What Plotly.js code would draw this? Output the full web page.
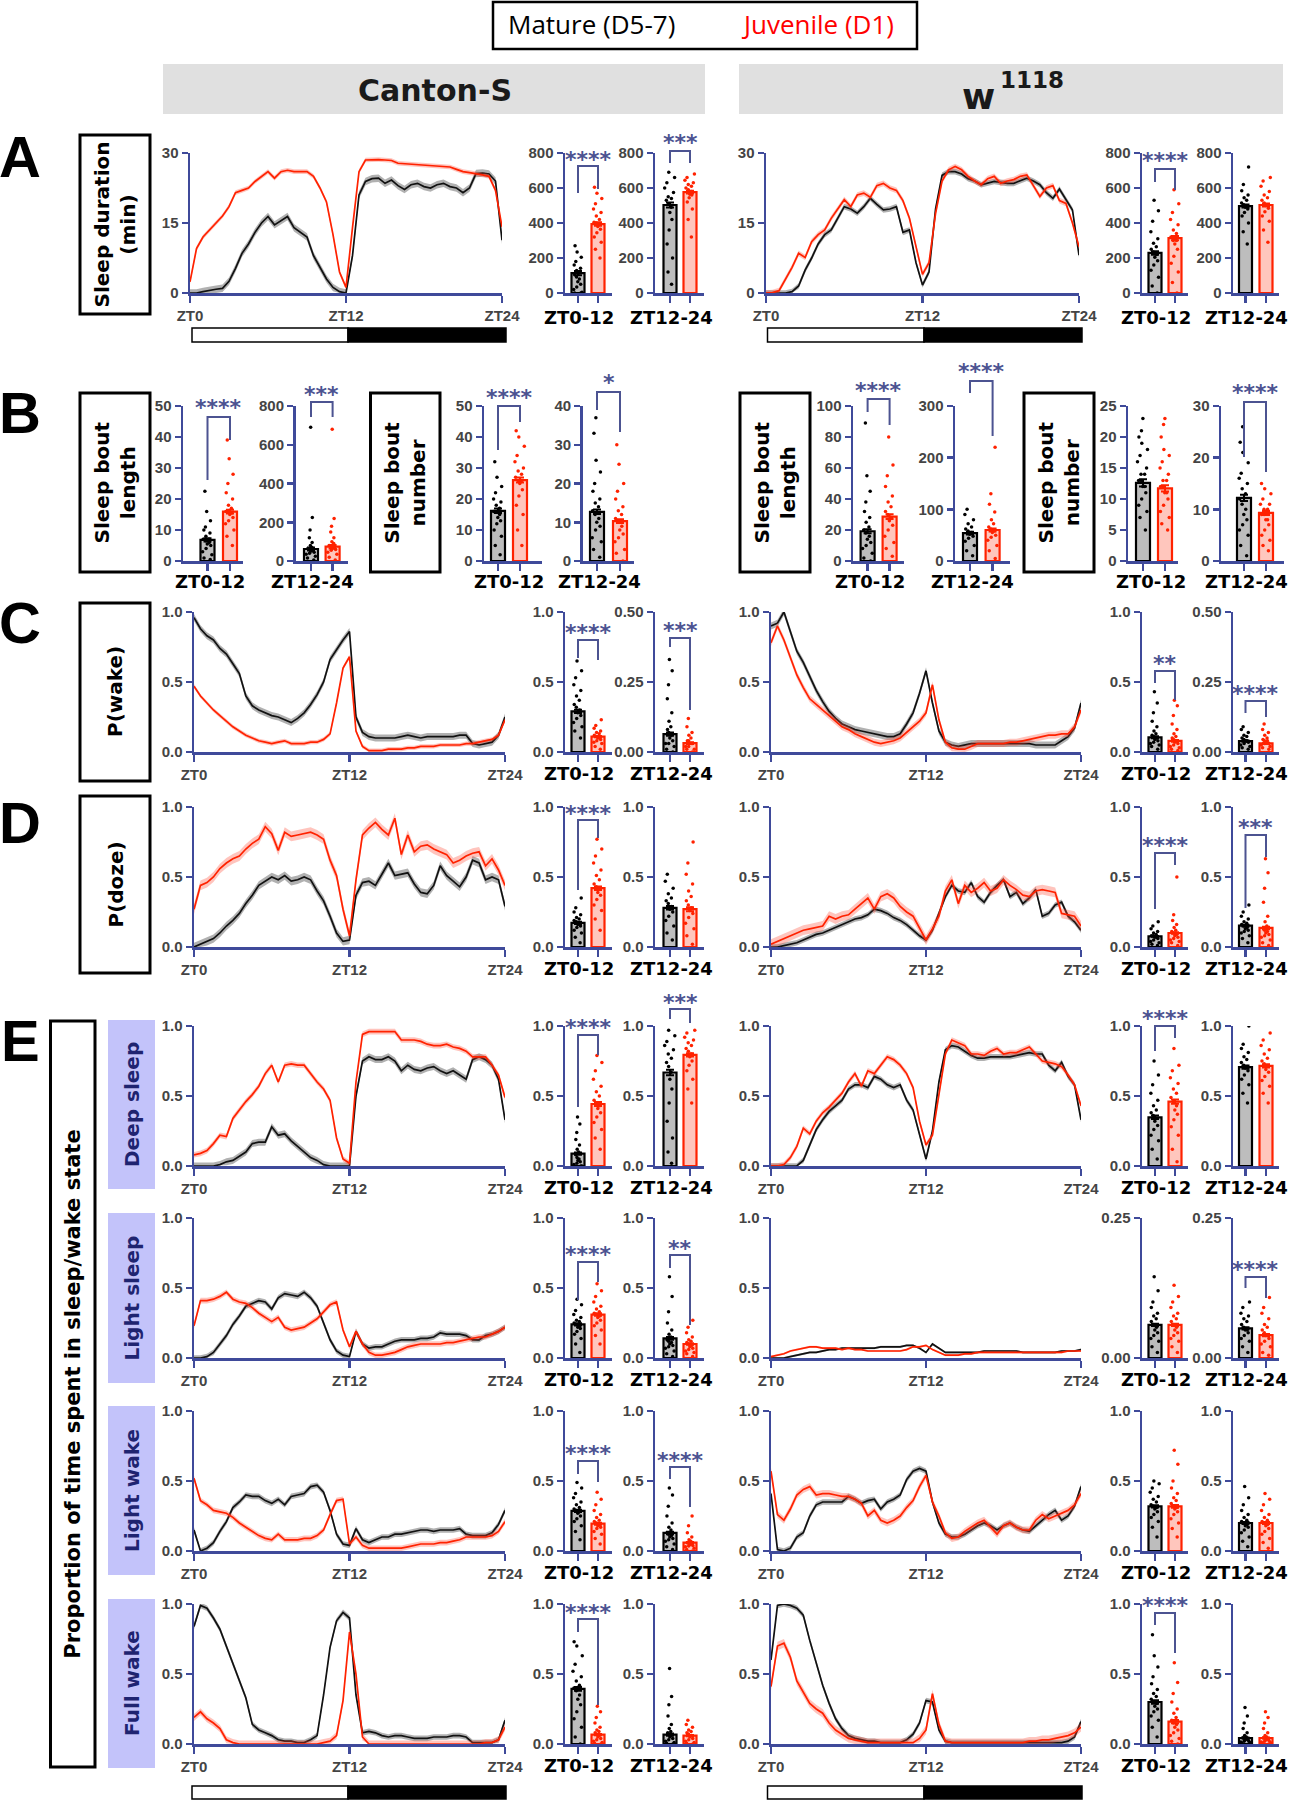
<!DOCTYPE html>
<html>
<head>
<meta charset="utf-8">
<script src="https://cdn.plot.ly/plotly-3.0.1.min.js"></script>
<style>html,body{margin:0;padding:0;background:#fff}</style>
</head>
<body>
<div id="fig" style="width:1289px;height:1800px"></div>
<script>
// ---- time axis (ZT hours, 30 min bins) ----
const T = [0,0.5,1,1.5,2,2.5,3,3.5,4,4.5,5,5.5,6,6.5,7,7.5,8,8.5,9,9.5,10,10.5,11,11.5,
           12,12.5,13,13.5,14,14.5,15,15.5,16,16.5,17,17.5,18,18.5,19,19.5,20,20.5,21,21.5,22,22.5,23,23.5,24];

// ---- A: sleep duration (min / 30 min) ----
const csA_blk = [0,0,0.3,0.6,0.8,1,2.5,5.3,8.5,10.5,13,15, 16.4,14.6,15.5,16.4,14,13,12,8,5.5,3,1.2,0.3,
  0,8,21,23.9,24.5,24.6,23.5,24.2,23,22.2,23.2,23.5, 22.8,22.5,23.2,23.5,22.8,22.5,21.5,22.5,25.6,25.7,25.5,24,11.3];
const csA_red = [2.4,9.5,12,13.5,15,16.5,18.5,21.5,22,22.5,23.9,25, 26,24.6,26,26.3,26,26,26,25,22.5,19.5,12.5,4.5,
  1.2,14,26,28.5,28.6,28.6,28.5,28.4,27.8,27.7,27.6,27.5, 27.5,27.4,27.2,27.1,27,26.5,26,25.8,25.6,25.3,25,22,14.2];
const wA_blk = [0,0,0,0,0.3,1.5,4.9,7.5,10.5,12.5,13.5,16, 18.5,18,17.1,18.5,20.3,19,17.8,18,18.5,13,13.5,6.5,
  1.7,4.5,18,25.2,26,26,25.5,24.5,24,23.2,23.5,23.9, 23.7,23.5,23.5,24,24.6,24,23.2,21.5,20.3,22.3,20,17.8,8.1];
const wA_red = [0,0.1,0.5,3,5.5,8.5,7.6,11,12.5,13.5,16,18, 20,18.5,21,21.4,20.5,23,23.5,22.5,22,19.8,16,10,
  4,6.5,17,24,26.4,27.1,26.4,25,24,23.2,24.5,25, 23.5,24,24.3,25,25.3,23,20.7,22.5,23,19.8,19.2,15,9.9];

// ---- C: P(wake) ----
const csC_blk = [0.96,0.88,0.83,0.80,0.74,0.70,0.63,0.56,0.40,0.33,0.30,0.28, 0.26,0.25,0.23,0.21,0.24,0.28,0.34,0.41,0.50,0.66,0.73,0.80,
  0.86,0.25,0.14,0.11,0.10,0.10,0.10,0.10,0.11,0.12,0.11,0.10, 0.11,0.11,0.11,0.11,0.11,0.12,0.12,0.06,0.05,0.06,0.07,0.12,0.25];
const csC_red = [0.47,0.40,0.35,0.30,0.26,0.22,0.18,0.15,0.12,0.10,0.08,0.07, 0.06,0.07,0.08,0.06,0.06,0.06,0.07,0.07,0.09,0.13,0.35,0.60,
  0.68,0.15,0.04,0.01,0.01,0.01,0.02,0.02,0.02,0.03,0.03,0.04, 0.04,0.04,0.05,0.05,0.05,0.05,0.06,0.06,0.07,0.08,0.09,0.12,0.23];
const wC_blk = [0.90,0.92,1.0,0.86,0.72,0.64,0.54,0.44,0.36,0.29,0.24,0.20, 0.18,0.16,0.15,0.14,0.13,0.12,0.11,0.11,0.13,0.20,0.28,0.42,
  0.58,0.35,0.15,0.07,0.05,0.04,0.05,0.06,0.06,0.06,0.06,0.06, 0.06,0.06,0.06,0.06,0.06,0.05,0.05,0.05,0.05,0.08,0.11,0.17,0.35];
const wC_red = [0.78,0.90,0.80,0.68,0.55,0.46,0.38,0.34,0.30,0.26,0.22,0.18, 0.16,0.13,0.11,0.09,0.07,0.06,0.07,0.08,0.10,0.14,0.18,0.22,
  0.28,0.48,0.23,0.07,0.03,0.02,0.02,0.04,0.06,0.06,0.06,0.06, 0.06,0.07,0.07,0.08,0.09,0.10,0.11,0.12,0.12,0.13,0.13,0.18,0.30];

// ---- D: P(doze) ----
const csD_blk = [0,0.02,0.04,0.06,0.10,0.15,0.19,0.24,0.31,0.37,0.44,0.47, 0.50,0.48,0.51,0.47,0.48,0.50,0.48,0.40,0.33,0.22,0.10,0.04,
  0.05,0.37,0.46,0.47,0.44,0.52,0.60,0.51,0.52,0.53,0.45,0.39, 0.38,0.44,0.58,0.51,0.47,0.43,0.50,0.62,0.60,0.48,0.50,0.48,0.29];
const csD_red = [0.27,0.44,0.46,0.50,0.56,0.60,0.63,0.65,0.70,0.74,0.77,0.86, 0.81,0.69,0.82,0.79,0.80,0.81,0.82,0.80,0.77,0.62,0.51,0.27,
  0.08,0.48,0.80,0.85,0.89,0.84,0.80,0.92,0.66,0.80,0.68,0.72, 0.73,0.70,0.68,0.66,0.60,0.62,0.65,0.67,0.68,0.58,0.63,0.55,0.44];
const wD_blk = [0,0,0.01,0.02,0.03,0.05,0.07,0.09,0.10,0.12,0.14,0.16, 0.18,0.20,0.21,0.23,0.27,0.26,0.24,0.21,0.19,0.16,0.12,0.08,
  0.05,0.12,0.24,0.36,0.44,0.40,0.39,0.46,0.36,0.32,0.39,0.44, 0.48,0.36,0.39,0.31,0.35,0.41,0.22,0.24,0.30,0.32,0.22,0.18,0.12];
const wD_red = [0.02,0.04,0.06,0.08,0.10,0.12,0.13,0.14,0.15,0.22,0.20,0.22, 0.23,0.27,0.31,0.35,0.27,0.36,0.38,0.35,0.29,0.25,0.22,0.14,
  0.05,0.13,0.22,0.40,0.48,0.31,0.44,0.39,0.42,0.46,0.40,0.42, 0.48,0.44,0.41,0.37,0.36,0.40,0.41,0.40,0.39,0.24,0.23,0.22,0.15];

// ---- E: deep sleep ----
const csDS_blk = [0,0,0,0,0.01,0.03,0.04,0.07,0.10,0.16,0.17,0.17, 0.28,0.22,0.23,0.18,0.14,0.10,0.06,0.04,0.01,0,0,0,
  0,0.50,0.75,0.78,0.76,0.76,0.78,0.75,0.68,0.72,0.69,0.68, 0.70,0.71,0.68,0.66,0.68,0.65,0.62,0.76,0.78,0.76,0.72,0.62,0.33];
const csDS_red = [0.08,0.09,0.11,0.16,0.22,0.21,0.34,0.40,0.46,0.51,0.57,0.66, 0.72,0.60,0.72,0.73,0.72,0.72,0.66,0.60,0.55,0.47,0.20,0.05,
  0.02,0.60,0.94,0.96,0.96,0.96,0.96,0.96,0.90,0.90,0.90,0.89, 0.87,0.86,0.86,0.87,0.85,0.84,0.82,0.78,0.78,0.78,0.72,0.65,0.49];
const wDS_blk = [0,0,0,0,0,0.04,0.15,0.26,0.33,0.39,0.43,0.47, 0.55,0.58,0.58,0.56,0.64,0.62,0.58,0.56,0.58,0.47,0.40,0.22,
  0.05,0.25,0.60,0.83,0.86,0.85,0.82,0.79,0.77,0.77,0.78,0.78, 0.78,0.78,0.79,0.80,0.81,0.80,0.80,0.72,0.68,0.74,0.64,0.58,0.33];
const wDS_red = [0,0,0.01,0.06,0.14,0.27,0.23,0.32,0.38,0.42,0.47,0.52, 0.60,0.66,0.57,0.68,0.66,0.72,0.78,0.76,0.72,0.66,0.56,0.32,
  0.15,0.22,0.52,0.80,0.90,0.88,0.86,0.80,0.80,0.79,0.82,0.84, 0.80,0.81,0.81,0.83,0.85,0.80,0.75,0.74,0.73,0.71,0.65,0.58,0.43];

// ---- E: light sleep ----
const csLS_blk = [0,0,0.01,0.04,0.10,0.16,0.24,0.30,0.37,0.39,0.41,0.40, 0.35,0.43,0.46,0.45,0.44,0.47,0.43,0.37,0.25,0.13,0.05,0.02,
  0.01,0.19,0.10,0.07,0.08,0.08,0.10,0.12,0.13,0.13,0.13,0.14, 0.14,0.15,0.18,0.17,0.17,0.17,0.16,0.13,0.13,0.16,0.17,0.19,0.22];
const csLS_red = [0.23,0.41,0.41,0.42,0.44,0.47,0.42,0.40,0.39,0.36,0.32,0.29, 0.26,0.29,0.22,0.20,0.21,0.22,0.25,0.28,0.33,0.38,0.40,0.20,
  0.08,0.19,0.10,0.04,0.02,0.02,0.03,0.04,0.06,0.08,0.09,0.10, 0.10,0.10,0.10,0.11,0.11,0.12,0.13,0.14,0.15,0.15,0.17,0.19,0.22];
const wLS_blk = [0,0,0,0.01,0.02,0.03,0.04,0.04,0.05,0.06,0.06,0.07, 0.07,0.07,0.07,0.07,0.07,0.08,0.08,0.08,0.08,0.09,0.09,0.07,
  0.04,0.10,0.07,0.04,0.04,0.04,0.04,0.04,0.04,0.05,0.05,0.05, 0.05,0.05,0.05,0.04,0.04,0.04,0.04,0.04,0.04,0.05,0.05,0.05,0.06];
const wLS_red = [0.01,0.02,0.03,0.05,0.06,0.07,0.08,0.08,0.07,0.07,0.07,0.06, 0.07,0.06,0.06,0.05,0.05,0.05,0.05,0.05,0.05,0.06,0.08,0.08,
  0.09,0.06,0.04,0.02,0.02,0.02,0.03,0.03,0.04,0.04,0.04,0.04, 0.04,0.04,0.04,0.04,0.04,0.04,0.04,0.04,0.04,0.04,0.05,0.05,0.05];

// ---- E: light wake ----
const csLW_blk = [0.15,0,0.02,0.06,0.14,0.21,0.31,0.35,0.40,0.39,0.39,0.36, 0.34,0.37,0.33,0.39,0.40,0.41,0.46,0.47,0.42,0.29,0.12,0.05,
  0.04,0.16,0.08,0.06,0.08,0.10,0.10,0.12,0.12,0.13,0.14,0.15, 0.15,0.14,0.15,0.15,0.15,0.16,0.12,0.11,0.11,0.11,0.13,0.19,0.29];
const csLW_red = [0.52,0.36,0.33,0.29,0.28,0.27,0.24,0.20,0.17,0.14,0.11,0.09, 0.08,0.12,0.08,0.08,0.08,0.09,0.09,0.11,0.15,0.26,0.36,0.37,
  0.05,0.10,0.04,0.02,0.02,0.02,0.02,0.02,0.02,0.03,0.04,0.05, 0.05,0.05,0.06,0.06,0.07,0.08,0.10,0.10,0.10,0.10,0.11,0.14,0.21];
const wLW_blk = [0.41,0.01,0,0.02,0.10,0.13,0.25,0.33,0.35,0.35,0.35,0.35, 0.39,0.37,0.34,0.36,0.37,0.30,0.35,0.37,0.40,0.51,0.57,0.59,
  0.57,0.35,0.20,0.12,0.10,0.10,0.12,0.15,0.18,0.20,0.18,0.15, 0.18,0.20,0.17,0.15,0.14,0.18,0.22,0.26,0.29,0.22,0.25,0.32,0.46];
const wLW_red = [0.57,0.26,0.22,0.30,0.40,0.44,0.46,0.40,0.41,0.41,0.40,0.39, 0.39,0.37,0.34,0.25,0.29,0.22,0.20,0.22,0.25,0.31,0.36,0.46,
  0.54,0.35,0.25,0.13,0.09,0.10,0.14,0.17,0.20,0.22,0.17,0.12, 0.18,0.20,0.17,0.15,0.15,0.22,0.26,0.23,0.25,0.27,0.29,0.33,0.41];

// ---- E: full wake ----
const csFW_blk = [0.84,0.99,0.97,0.90,0.82,0.70,0.58,0.45,0.33,0.14,0.10,0.08, 0.06,0.03,0.02,0.02,0.01,0.01,0.03,0.06,0.35,0.69,0.88,0.94,
  0.90,0.35,0.08,0.09,0.08,0.06,0.05,0.06,0.06,0.05,0.04,0.04, 0.04,0.05,0.05,0.05,0.06,0.06,0.05,0.01,0.01,0.01,0.01,0.03,0.17];
const csFW_red = [0.19,0.23,0.18,0.15,0.11,0.03,0.01,0,0,0,0,0, 0,0,0,0,0,0,0,0,0.01,0.02,0.06,0.31,
  0.80,0.50,0.05,0,0,0,0,0,0,0,0,0, 0,0,0,0,0,0,0,0,0,0.01,0.01,0.03,0.12];
const wFW_blk = [0.60,0.99,1.0,0.99,0.97,0.92,0.74,0.57,0.42,0.29,0.18,0.11, 0.06,0.04,0.03,0.02,0.02,0.01,0.01,0.01,0.01,0.03,0.07,0.15,
  0.31,0.30,0.10,0.02,0.01,0.01,0.01,0.01,0.01,0.01,0.01,0.01, 0.01,0.01,0.01,0.01,0.01,0.01,0.01,0.01,0.01,0.01,0.02,0.05,0.16];
const wFW_red = [0.41,0.70,0.72,0.62,0.45,0.37,0.29,0.25,0.22,0.15,0.10,0.07, 0.04,0.03,0.02,0.01,0.01,0.01,0.01,0.01,0.01,0.01,0.01,0.04,
  0.10,0.36,0.14,0.02,0.01,0.01,0.01,0.01,0.01,0.01,0.01,0.01, 0.01,0.01,0.01,0.01,0.02,0.02,0.03,0.03,0.04,0.05,0.06,0.08,0.12];

// ---- bar summaries: [ZT0-12 mature, ZT0-12 juvenile, ZT12-24 mature, ZT12-24 juvenile] ----
const csA_mean = [114,394,503,577],        csA_sem = [12,10,14,8];
const wA_mean = [229,314,497,503],         wA_sem = [10,12,9,9];
const csBL_mean = [6.8,15.9,62,74],        csBL_sem = [0.5,0.6,8,9];
const csBN_mean = [16.2,26.1,12.7,10.3],   csBN_sem = [0.7,0.8,0.6,0.5];
const wBL_mean = [19.2,28.6,54,60],        wBL_sem = [1.3,1.5,2.5,3];
const wBN_mean = [12.6,11.7,12.2,9.3],     wBN_sem = [0.6,0.5,0.6,0.4];
const csC_mean = [0.29,0.11,0.064,0.032],  csC_sem = [0.012,0.005,0.006,0.003];
const wC_mean = [0.105,0.08,0.039,0.031],  wC_sem = [0.007,0.006,0.002,0.002];
const csD_mean = [0.173,0.42,0.28,0.27],   csD_sem = [0.008,0.013,0.012,0.014];
const wD_mean = [0.076,0.10,0.153,0.136],  wD_sem = [0.003,0.006,0.006,0.009];
const csDS_mean = [0.088,0.443,0.668,0.794], csDS_sem = [0.008,0.015,0.02,0.012];
const wDS_mean = [0.348,0.46,0.706,0.715], wDS_sem = [0.013,0.015,0.012,0.012];
const csLS_mean = [0.24,0.31,0.14,0.10],   csLS_sem = [0.008,0.009,0.01,0.005];
const wLS_mean = [0.059,0.059,0.053,0.041], wLS_sem = [0.002,0.002,0.002,0.002];
const csLW_mean = [0.286,0.195,0.129,0.06], csLW_sem = [0.008,0.007,0.009,0.004];
const wLW_mean = [0.319,0.319,0.2,0.2],    wLW_sem = [0.008,0.01,0.007,0.008];
const csFW_mean = [0.394,0.067,0.067,0.06], csFW_sem = [0.013,0.005,0.008,0.004];
const wFW_mean = [0.30,0.16,0.043,0.043],  wFW_sem = [0.012,0.012,0.004,0.004];

// ---- individual flies (representative values read from the strips) ----
const csA_pts = [
  [0,5,20,35,50,65,80,92,104,115,128,142,160,180,205,235,270,0],
  [200,250,290,320,345,365,380,395,405,420,440,460,480,510,540,570,605,400],
  [50,120,200,280,360,420,460,490,510,530,550,575,600,630,660,690,540],
  [320,420,480,520,545,565,580,590,600,610,620,630,645,660,680,560]];
const wA_pts = [
  [0,40,90,130,160,185,205,220,235,250,265,285,310,350,410,470,530],
  [0,60,120,170,210,250,280,300,320,340,360,390,420,460,510,590,300],
  [280,350,400,440,460,480,495,505,515,530,545,560,585,620,720,490],
  [290,360,410,440,465,485,500,515,530,545,560,580,610,640,660,500]];
const csBL_pts = [
  [0.5,1,2,3,4,5,5.5,6,6.5,7,8,9,10,11,13,16,22.5,7],
  [5,8,10,12,13,14,15,15.5,16,17,18,20,22,25,28,33,39,16],
  [5,15,25,35,45,50,55,60,65,70,80,95,120,160,225,690,40],
  [5,20,35,45,55,65,70,75,80,90,100,120,150,180,220,680,60]];
const csBN_pts = [
  [2,5,8,10,12,13,14,15,16,17,18,19,20,22,24,27,32,16],
  [5,10,15,18,21,23,25,26,27,28,29,30,32,34,37,40,42,26],
  [1,3,5,6,8,9,10,11,12,13,14,15,16,18,20,23,26,33,37],
  [0,2,3,5,6,7,8,9,10,11,12,13,14,16,18,20,25,30]];
const wBL_pts = [
  [0,2,5,8,10,12,14,16,18,20,22,25,28,32,38,45,55,89],
  [3,8,12,16,20,23,26,28,30,32,35,38,42,48,55,62,80],
  [10,20,30,38,44,48,52,55,58,62,66,72,80,90,100],
  [5,20,30,40,46,50,55,58,62,66,72,80,95,110,130,220]];
const wBN_pts = [
  [5,7,8,9,10,11,12,12,13,13,14,14,15,16,17,18,19,20,21,23],
  [5,6,7,8,9,10,11,11,12,12,13,13,14,15,16,17,18,20,22,23],
  [1,3,5,6,7,8,9,10,11,12,13,14,15,16,17,19,21,23,26],
  [2,3,4,5,6,7,8,8,9,9,10,10,11,11,12,13,14,15]];
const csC_pts = [
  [0.10,0.15,0.18,0.21,0.24,0.26,0.28,0.30,0.32,0.34,0.37,0.40,0.44,0.48,0.53,0.58,0.65],
  [0.02,0.04,0.06,0.07,0.08,0.09,0.10,0.10,0.11,0.12,0.13,0.14,0.15,0.17,0.19,0.23],
  [0,0.01,0.02,0.03,0.03,0.04,0.05,0.06,0.07,0.08,0.09,0.11,0.14,0.19,0.24,0.29,0.33],
  [0,0.01,0.01,0.02,0.02,0.03,0.03,0.03,0.04,0.04,0.05,0.06,0.07,0.09,0.12]];
const wC_pts = [
  [0.02,0.04,0.05,0.06,0.07,0.08,0.09,0.10,0.11,0.12,0.13,0.15,0.18,0.22,0.28,0.35,0.43],
  [0.01,0.02,0.03,0.04,0.05,0.06,0.07,0.08,0.09,0.10,0.11,0.13,0.16,0.20,0.26,0.33,0.37],
  [0.01,0.015,0.02,0.025,0.03,0.035,0.04,0.04,0.045,0.05,0.055,0.06,0.07,0.08,0.09],
  [0.01,0.015,0.02,0.025,0.03,0.03,0.035,0.04,0.04,0.045,0.05,0.06,0.07,0.08,0.10]];
const csD_pts = [
  [0.03,0.07,0.10,0.12,0.14,0.15,0.16,0.17,0.18,0.19,0.20,0.21,0.23,0.25,0.28,0.35],
  [0.12,0.20,0.26,0.30,0.34,0.37,0.39,0.41,0.43,0.45,0.48,0.51,0.55,0.60,0.65,0.70,0.77],
  [0.05,0.10,0.15,0.19,0.22,0.25,0.27,0.29,0.31,0.33,0.35,0.38,0.42,0.47,0.52],
  [0.02,0.08,0.13,0.17,0.21,0.24,0.26,0.28,0.30,0.33,0.36,0.40,0.45,0.52,0.60,0.75]];
const wD_pts = [
  [0.01,0.02,0.03,0.04,0.05,0.06,0.07,0.07,0.08,0.08,0.09,0.10,0.11,0.13,0.15,0.18],
  [0.01,0.03,0.04,0.05,0.06,0.07,0.08,0.09,0.10,0.11,0.12,0.14,0.16,0.19,0.23,0.50],
  [0.03,0.06,0.08,0.10,0.11,0.12,0.13,0.14,0.15,0.16,0.17,0.18,0.20,0.22,0.25,0.30],
  [0.01,0.03,0.05,0.07,0.08,0.09,0.10,0.11,0.12,0.13,0.15,0.18,0.22,0.32,0.42,0.53,0.63]];
const csDS_pts = [
  [0,0,0,0.01,0.02,0.03,0.04,0.05,0.06,0.08,0.10,0.12,0.15,0.19,0.24,0.30,0.35],
  [0.12,0.20,0.26,0.31,0.35,0.38,0.41,0.43,0.45,0.47,0.50,0.53,0.57,0.62,0.68,0.74,0.79],
  [0.02,0.10,0.20,0.32,0.45,0.55,0.62,0.67,0.71,0.74,0.77,0.80,0.83,0.86,0.89,0.93,0.97],
  [0.45,0.55,0.62,0.68,0.72,0.75,0.78,0.80,0.82,0.84,0.86,0.88,0.90,0.92,0.95,0.97]];
const wDS_pts = [
  [0.05,0.12,0.18,0.22,0.26,0.29,0.32,0.34,0.36,0.38,0.40,0.43,0.47,0.52,0.58,0.65,0.75],
  [0.03,0.12,0.22,0.28,0.33,0.37,0.40,0.43,0.46,0.49,0.52,0.55,0.59,0.63,0.68,0.72,0.84],
  [0.45,0.52,0.58,0.62,0.65,0.68,0.70,0.71,0.72,0.74,0.76,0.78,0.81,0.84,0.87,1.0],
  [0.45,0.52,0.57,0.61,0.64,0.67,0.69,0.71,0.73,0.75,0.77,0.80,0.83,0.86,0.90,0.95]];
const csLS_pts = [
  [0.04,0.10,0.14,0.17,0.19,0.21,0.22,0.23,0.24,0.25,0.26,0.27,0.29,0.31,0.34,0.38,0.42],
  [0.10,0.16,0.20,0.23,0.25,0.27,0.29,0.30,0.31,0.32,0.33,0.35,0.37,0.40,0.44,0.48,0.53],
  [0.01,0.03,0.05,0.07,0.08,0.09,0.10,0.11,0.12,0.13,0.15,0.17,0.20,0.25,0.33,0.44,0.58],
  [0.01,0.03,0.04,0.05,0.06,0.07,0.08,0.09,0.10,0.11,0.12,0.13,0.15,0.18,0.22,0.27]];
const wLS_pts = [
  [0.01,0.02,0.03,0.035,0.04,0.045,0.05,0.055,0.06,0.065,0.07,0.075,0.08,0.09,0.10,0.12,0.145],
  [0.01,0.02,0.03,0.035,0.04,0.045,0.05,0.055,0.06,0.065,0.07,0.075,0.08,0.09,0.10,0.11,0.13],
  [0.01,0.02,0.03,0.035,0.04,0.045,0.05,0.05,0.055,0.06,0.065,0.07,0.075,0.08,0.09,0.10],
  [0.005,0.01,0.02,0.025,0.03,0.035,0.04,0.04,0.045,0.05,0.055,0.06,0.07,0.08,0.09,0.108]];
const csLW_pts = [
  [0.08,0.14,0.18,0.21,0.23,0.25,0.27,0.28,0.29,0.30,0.31,0.33,0.35,0.38,0.41,0.45,0.49],
  [0.05,0.09,0.12,0.14,0.16,0.17,0.18,0.19,0.20,0.21,0.22,0.24,0.26,0.29,0.33,0.37,0.42],
  [0.01,0.03,0.05,0.07,0.08,0.09,0.10,0.11,0.12,0.13,0.15,0.17,0.20,0.25,0.32,0.40,0.45],
  [0,0.01,0.02,0.03,0.035,0.04,0.045,0.05,0.055,0.06,0.07,0.08,0.10,0.13,0.18,0.25]];
const wLW_pts = [
  [0.10,0.17,0.21,0.24,0.26,0.28,0.30,0.31,0.32,0.33,0.35,0.37,0.39,0.42,0.45,0.48,0.50],
  [0.10,0.16,0.20,0.23,0.26,0.28,0.30,0.31,0.32,0.34,0.36,0.38,0.41,0.45,0.50,0.62,0.72],
  [0.03,0.07,0.10,0.13,0.15,0.17,0.18,0.19,0.20,0.21,0.22,0.24,0.26,0.29,0.33,0.38,0.46],
  [0.02,0.06,0.09,0.12,0.14,0.16,0.18,0.19,0.20,0.21,0.22,0.24,0.26,0.29,0.33,0.37,0.41]];
const csFW_pts = [
  [0,0.05,0.12,0.18,0.23,0.28,0.32,0.35,0.38,0.40,0.42,0.45,0.48,0.52,0.57,0.63,0.70,0.73],
  [0,0.005,0.01,0.02,0.03,0.04,0.05,0.06,0.07,0.08,0.09,0.10,0.12,0.15,0.19,0.23,0.27],
  [0,0.005,0.01,0.02,0.03,0.04,0.05,0.06,0.07,0.08,0.09,0.11,0.14,0.20,0.28,0.34,0.54],
  [0,0.005,0.01,0.02,0.03,0.04,0.05,0.06,0.07,0.08,0.09,0.10,0.12,0.14,0.17]];
const wFW_pts = [
  [0.05,0.12,0.17,0.20,0.23,0.25,0.27,0.29,0.30,0.32,0.34,0.36,0.39,0.43,0.48,0.55,0.63,0.78],
  [0,0.02,0.04,0.06,0.08,0.10,0.12,0.14,0.15,0.17,0.19,0.22,0.25,0.30,0.36,0.44,0.58],
  [0,0.005,0.01,0.015,0.02,0.025,0.03,0.035,0.04,0.045,0.05,0.06,0.08,0.11,0.15,0.20,0.26],
  [0,0.005,0.01,0.015,0.02,0.025,0.03,0.035,0.04,0.045,0.05,0.06,0.08,0.11,0.15,0.19,0.23]];

// ---- page geometry (px) ----
const W = 1289, H = 1800;
const AX = '#3f4a9a', STAR = '#4c5391', RED = '#ff2200', NAVY = '#1f2470';
const LAB = 'DejaVu Sans, Verdana, sans-serif';
const TICK = 'Liberation Sans, Arial, sans-serif';

const CS_LINE_A = [190, 502], CS_LINE = [194, 505];
const W_LINE_A = [766, 1079], W_LINE = [771, 1081];
const CS_BAR1 = [565, 578, 598, 612], CS_BAR2 = [655, 670, 690, 704];
const W_BAR1 = [1142, 1155, 1175, 1188], W_BAR2 = [1233, 1245.5, 1266, 1279];
const ROW = {A: [153, 293], B: [406, 561], C: [612, 752], D: [807, 947],
             DS: [1026, 1166], LS: [1218, 1358], LW: [1411, 1551], FW: [1604, 1744]};

const traces = [], shapes = [], annotations = [];
const layout = {
  width: W, height: H, margin: {l: 0, r: 0, t: 0, b: 0},
  paper_bgcolor: '#fff', plot_bgcolor: 'rgba(0,0,0,0)',
  showlegend: false, barmode: 'overlay',
  font: {family: TICK}
};
const baseAxis = {
  showgrid: false, zeroline: false, showline: true, linecolor: AX, linewidth: 2.5,
  ticks: 'outside', tickcolor: AX, tickwidth: 2.5, ticklen: 6, fixedrange: true,
  tickfont: {family: TICK, size: 15, color: '#444', weight: 700}
};

const fx = x => x / W, fy = y => 1 - y / H;

let n = 0;
function newAxes(x0, x1, top, bot) {
  n += 1;
  const id = n === 1 ? '' : String(n);
  layout['xaxis' + id] = Object.assign({}, baseAxis, {domain: [fx(x0), fx(x1)], anchor: 'y' + id});
  layout['yaxis' + id] = Object.assign({}, baseAxis, {domain: [fy(bot), fy(top)], anchor: 'x' + id});
  return id;
}

function text(x, y, t, size, opt) {
  annotations.push(Object.assign({
    xref: 'paper', yref: 'paper', x: fx(x), y: fy(y), text: t, showarrow: false,
    xanchor: 'center', yanchor: 'middle',
    font: {family: LAB, size: size, color: '#111', weight: 700}
  }, opt || {}));
}

function rect(x0, y0, x1, y1, fill, line, lw, layer) {
  shapes.push({type: 'rect', xref: 'paper', yref: 'paper', x0: fx(x0), x1: fx(x1), y0: fy(y1), y1: fy(y0),
    fillcolor: fill, line: {color: line, width: lw}, layer: layer || 'above'});
}

function linePanel(g, row, ymax, dtick, fmt, blk, red, band) {
  const id = newAxes(g[0], g[1], row[0], row[1]);
  Object.assign(layout['xaxis' + id], {range: [0, 24], tickvals: [0, 12, 24], ticktext: ['ZT0', 'ZT12', 'ZT24'], ticklen: 7});
  Object.assign(layout['yaxis' + id], {range: [0, ymax], dtick: dtick, tickformat: fmt});
  const sets = [[blk, '#111', 'rgba(70,70,70,0.42)', band[0]], [red, RED, 'rgba(255,70,50,0.32)', band[1]]];
  sets.forEach(([v, c, f, s]) => {
    const ax = {xaxis: 'x' + id, yaxis: 'y' + id, hoverinfo: 'skip', type: 'scatter', mode: 'lines'};
    traces.push(Object.assign({x: T, y: v.map(a => a + s), line: {width: 0}}, ax));
    traces.push(Object.assign({x: T, y: v.map(a => Math.max(0, a - s)), line: {width: 0}, fill: 'tonexty', fillcolor: f}, ax));
    traces.push(Object.assign({x: T, y: v, line: {color: c, width: 1.7}}, ax));
  });
}

function barPanel(g, row, yax, mean, sem, pts, k, label, sig, opt) {
  opt = opt || {};
  const unit = g[2] - g[1];
  const bw = (opt.bw || 13) / unit;
  const id = newAxes(g[0], g[3], row[0], row[1]);
  Object.assign(layout['xaxis' + id], {range: [-(g[1] - g[0]) / unit, 1 + (g[3] - g[2]) / unit],
    tickvals: [0, 1], showticklabels: false, ticklen: 7});
  Object.assign(layout['yaxis' + id], {range: [0, yax[0]], dtick: yax[1], tickformat: yax[2]});
  const ax = {xaxis: 'x' + id, yaxis: 'y' + id, hoverinfo: 'skip'};
  const groups = [[0, '#bdbdbd', '#000000'], [1, '#ffc6bd', RED]];
  groups.forEach(([j, fill, edge]) => {
    const i = 2 * k + j;
    traces.push(Object.assign({type: 'bar', x: [j], y: [mean[i]], width: [bw],
      marker: {color: fill, line: {color: edge, width: 2.2}},
      error_y: {type: 'data', array: [sem[i]], symmetric: true, color: edge, thickness: 2, width: 4}}, ax));
  });
  groups.forEach(([j, fill, edge]) => {
    const i = 2 * k + j;
    traces.push(Object.assign({type: 'box', y: pts[i], x0: j, width: 0.55, boxpoints: 'all', jitter: 1, pointpos: 0,
      fillcolor: 'rgba(0,0,0,0)', line: {width: 0, color: 'rgba(0,0,0,0)'},
      marker: {color: edge, size: 3.5}}, ax));
  });
  const lc = (g[1] + g[2]) / 2 + (opt.off === undefined ? -9 : opt.off);
  text(lc, row[1] + (opt.dy || 21), label, 18, {font: {family: LAB, size: 18, color: '#000', weight: 700}});
  if (sig) {
    text((g[1] + g[2]) / 2, sig.y + 5, sig.s, 22, {font: {family: LAB, size: 22, color: STAR, weight: 700}});
    shapes.push({type: 'path', xref: 'paper', yref: 'paper', line: {color: STAR, width: 2},
      path: 'M' + fx(g[1]) + ',' + fy(sig.l) + ' L' + fx(g[1]) + ',' + fy(sig.t) +
            ' L' + fx(g[2]) + ',' + fy(sig.t) + ' L' + fx(g[2]) + ',' + fy(sig.r)});
  }
}

const Y30 = [800, 200, ''], P1 = [1, 0.5, '.1f'], P05 = [0.5, 0.25, '.2f'], P025 = [0.25, 0.25, '.2f'];

// ---- A ----
linePanel(CS_LINE_A, ROW.A, 30, 15, '', csA_blk, csA_red, [0.8, 0.5]);
barPanel(CS_BAR1, ROW.A, Y30, csA_mean, csA_sem, csA_pts, 0, 'ZT0-12', {s: '****', y: 154, t: 166, l: 193, r: 189}, {dy: 25});
barPanel(CS_BAR2, ROW.A, Y30, csA_mean, csA_sem, csA_pts, 1, 'ZT12-24', {s: '***', y: 137, t: 151, l: 163, r: 163}, {dy: 25});
linePanel(W_LINE_A, ROW.A, 30, 15, '', wA_blk, wA_red, [0.6, 0.6]);
barPanel(W_BAR1, ROW.A, Y30, wA_mean, wA_sem, wA_pts, 0, 'ZT0-12', {s: '****', y: 155, t: 169, l: 182, r: 190}, {dy: 25});
barPanel(W_BAR2, ROW.A, Y30, wA_mean, wA_sem, wA_pts, 1, 'ZT12-24', null, {dy: 25});

// ---- B ----
barPanel([183, 207.5, 230, 243], ROW.B, [50, 10, ''], csBL_mean, csBL_sem, csBL_pts, 0, 'ZT0-12', {s: '****', y: 402, t: 417, l: 480, r: 440}, {bw: 14});
barPanel([295.5, 311, 332.6, 348], ROW.B, [800, 200, ''], csBL_mean, csBL_sem, csBL_pts, 1, 'ZT12-24', {s: '***', y: 389, t: 402, l: 417, r: 417}, {bw: 14});
barPanel([484, 498, 520, 542], ROW.B, [50, 10, ''], csBN_mean, csBN_sem, csBN_pts, 0, 'ZT0-12', {s: '****', y: 392, t: 406, l: 450, r: 422}, {bw: 14, off: 0});
barPanel([582.6, 597, 620, 634], ROW.B, [40, 10, ''], csBN_mean, csBN_sem, csBN_pts, 1, 'ZT12-24', {s: '*', y: 378, t: 392, l: 410, r: 432}, {bw: 14});
barPanel([853, 867.6, 889.6, 903.6], ROW.B, [100, 20, ''], wBL_mean, wBL_sem, wBL_pts, 0, 'ZT0-12', {s: '****', y: 385, t: 399, l: 412, r: 425}, {bw: 14});
barPanel([955, 970, 992.6, 1010], ROW.B, [300, 100, ''], wBL_mean, wBL_sem, wBL_pts, 1, 'ZT12-24', {s: '****', y: 366, t: 381, l: 393, r: 436}, {bw: 14});
barPanel([1128, 1143, 1165, 1178], ROW.B, [25, 5, ''], wBN_mean, wBN_sem, wBN_pts, 0, 'ZT0-12', null, {bw: 14, off: -3});
barPanel([1221, 1244, 1266, 1283.6], ROW.B, [30, 10, ''], wBN_mean, wBN_sem, wBN_pts, 1, 'ZT12-24', {s: '****', y: 388, t: 402, l: 457, r: 472}, {bw: 14});

// ---- C ----
linePanel(CS_LINE, ROW.C, 1, 0.5, '.1f', csC_blk, csC_red, [0.025, 0.015]);
barPanel(CS_BAR1, ROW.C, P1, csC_mean, csC_sem, csC_pts, 0, 'ZT0-12', {s: '****', y: 627, t: 640, l: 658, r: 660});
barPanel(CS_BAR2, ROW.C, P05, csC_mean, csC_sem, csC_pts, 1, 'ZT12-24', {s: '***', y: 625, t: 638, l: 647, r: 710});
linePanel(W_LINE, ROW.C, 1, 0.5, '.1f', wC_blk, wC_red, [0.025, 0.025]);
barPanel(W_BAR1, ROW.C, P1, wC_mean, wC_sem, wC_pts, 0, 'ZT0-12', {s: '**', y: 658, t: 671, l: 683, r: 700});
barPanel(W_BAR2, ROW.C, P05, wC_mean, wC_sem, wC_pts, 1, 'ZT12-24', {s: '****', y: 688, t: 701, l: 713, r: 717});

// ---- D ----
linePanel(CS_LINE, ROW.D, 1, 0.5, '.1f', csD_blk, csD_red, [0.03, 0.035]);
barPanel(CS_BAR1, ROW.D, P1, csD_mean, csD_sem, csD_pts, 0, 'ZT0-12', {s: '****', y: 808, t: 820, l: 890, r: 838});
barPanel(CS_BAR2, ROW.D, P1, csD_mean, csD_sem, csD_pts, 1, 'ZT12-24', null);
linePanel(W_LINE, ROW.D, 1, 0.5, '.1f', wD_blk, wD_red, [0.02, 0.035]);
barPanel(W_BAR1, ROW.D, P1, wD_mean, wD_sem, wD_pts, 0, 'ZT0-12', {s: '****', y: 840, t: 853, l: 909, r: 865});
barPanel(W_BAR2, ROW.D, P1, wD_mean, wD_sem, wD_pts, 1, 'ZT12-24', {s: '***', y: 823, t: 835, l: 908, r: 857});

// ---- E ----
linePanel(CS_LINE, ROW.DS, 1, 0.5, '.1f', csDS_blk, csDS_red, [0.025, 0.02]);
barPanel(CS_BAR1, ROW.DS, P1, csDS_mean, csDS_sem, csDS_pts, 0, 'ZT0-12', {s: '****', y: 1022, t: 1035, l: 1107, r: 1055});
barPanel(CS_BAR2, ROW.DS, P1, csDS_mean, csDS_sem, csDS_pts, 1, 'ZT12-24', {s: '***', y: 997, t: 1009, l: 1019, r: 1023});
linePanel(W_LINE, ROW.DS, 1, 0.5, '.1f', wDS_blk, wDS_red, [0.02, 0.02]);
barPanel(W_BAR1, ROW.DS, P1, wDS_mean, wDS_sem, wDS_pts, 0, 'ZT0-12', {s: '****', y: 1013, t: 1026, l: 1051, r: 1038});
barPanel(W_BAR2, ROW.DS, P1, wDS_mean, wDS_sem, wDS_pts, 1, 'ZT12-24', null);

linePanel(CS_LINE, ROW.LS, 1, 0.5, '.1f', csLS_blk, csLS_red, [0.02, 0.02]);
barPanel(CS_BAR1, ROW.LS, P1, csLS_mean, csLS_sem, csLS_pts, 0, 'ZT0-12', {s: '****', y: 1249, t: 1262, l: 1300, r: 1282});
barPanel(CS_BAR2, ROW.LS, P1, csLS_mean, csLS_sem, csLS_pts, 1, 'ZT12-24', {s: '**', y: 1243, t: 1255, l: 1268, r: 1325});
linePanel(W_LINE, ROW.LS, 1, 0.5, '.1f', wLS_blk, wLS_red, [0.007, 0.007]);
barPanel(W_BAR1, ROW.LS, P025, wLS_mean, wLS_sem, wLS_pts, 0, 'ZT0-12', null);
barPanel(W_BAR2, ROW.LS, P025, wLS_mean, wLS_sem, wLS_pts, 1, 'ZT12-24', {s: '****', y: 1264, t: 1277, l: 1288, r: 1298});

linePanel(CS_LINE, ROW.LW, 1, 0.5, '.1f', csLW_blk, csLW_red, [0.02, 0.02]);
barPanel(CS_BAR1, ROW.LW, P1, csLW_mean, csLW_sem, csLW_pts, 0, 'ZT0-12', {s: '****', y: 1448, t: 1461, l: 1474, r: 1482});
barPanel(CS_BAR2, ROW.LW, P1, csLW_mean, csLW_sem, csLW_pts, 1, 'ZT12-24', {s: '****', y: 1455, t: 1467, l: 1479, r: 1507});
linePanel(W_LINE, ROW.LW, 1, 0.5, '.1f', wLW_blk, wLW_red, [0.02, 0.025]);
barPanel(W_BAR1, ROW.LW, P1, wLW_mean, wLW_sem, wLW_pts, 0, 'ZT0-12', null);
barPanel(W_BAR2, ROW.LW, P1, wLW_mean, wLW_sem, wLW_pts, 1, 'ZT12-24', null);

linePanel(CS_LINE, ROW.FW, 1, 0.5, '.1f', csFW_blk, csFW_red, [0.02, 0.025]);
barPanel(CS_BAR1, ROW.FW, P1, csFW_mean, csFW_sem, csFW_pts, 0, 'ZT0-12', {s: '****', y: 1607, t: 1619, l: 1632, r: 1705});
barPanel(CS_BAR2, ROW.FW, P1, csFW_mean, csFW_sem, csFW_pts, 1, 'ZT12-24', null);
linePanel(W_LINE, ROW.FW, 1, 0.5, '.1f', wFW_blk, wFW_red, [0.02, 0.03]);
barPanel(W_BAR1, ROW.FW, P1, wFW_mean, wFW_sem, wFW_pts, 0, 'ZT0-12', {s: '****', y: 1600, t: 1613, l: 1625, r: 1653});
barPanel(W_BAR2, ROW.FW, P1, wFW_mean, wFW_sem, wFW_pts, 1, 'ZT12-24', null);

// ---- frame: legend, headers, labels ----
rect(493, 2, 917, 49, '#fff', '#000', 2.5);
text(591, 24, 'Mature (D5-7)', 26, {font: {family: 'Open Sans, sans-serif', size: 26, color: '#000'}});
text(817, 24, 'Juvenile (D1)', 26, {font: {family: 'Open Sans, sans-serif', size: 26, color: '#ff0000'}});

rect(163, 64, 705, 114, '#e0e0e0', 'rgba(0,0,0,0)', 0, 'below');
rect(739, 64, 1283, 114, '#e0e0e0', 'rgba(0,0,0,0)', 0, 'below');
text(435, 90, 'Canton-S', 30, {font: {family: LAB, size: 30, color: '#1a1a1a', weight: 700}});
text(978, 96, 'w', 36, {font: {family: LAB, size: 36, color: '#1a1a1a', weight: 700}});
text(1032, 80, '1118', 23, {font: {family: LAB, size: 23, color: '#1a1a1a', weight: 700}});

const letterFont = {family: 'Liberation Sans, Arial, sans-serif', size: 58, color: '#000', weight: 700};
[['A', 156], ['B', 412], ['C', 623], ['D', 822], ['E', 1040]].forEach(([l, y]) => text(20, y, l, 58, {font: letterFont}));

function labelBox(x0, y0, x1, y1, t, size) {
  rect(x0, y0, x1, y1, 'rgba(0,0,0,0)', '#000', 3);
  text((x0 + x1) / 2, (y0 + y1) / 2, t, size, {textangle: -90, font: {family: LAB, size: size, color: '#000', weight: 700}});
}
labelBox(80, 135, 150, 314, 'Sleep duration<br>(min)', 20);
labelBox(80, 393, 150, 572, 'Sleep bout<br>length', 20);
labelBox(370.5, 393, 440, 572, 'Sleep bout<br>number', 20);
labelBox(740, 393, 810, 572, 'Sleep bout<br>length', 20);
labelBox(1024, 393, 1094, 572, 'Sleep bout<br>number', 20);
labelBox(80, 603, 150, 781, 'P(wake)', 20);
labelBox(80, 796, 150, 973, 'P(doze)', 20);
labelBox(50.5, 1021, 95, 1767, 'Proportion of time spent in sleep/wake state', 21);

[['Deep sleep', 1020, 1189], ['Light sleep', 1213, 1383], ['Light wake', 1406, 1575], ['Full wake', 1599, 1768]].forEach(([t, y0, y1]) => {
  rect(108, y0, 155, y1, '#c3c3fa', 'rgba(0,0,0,0)', 0, 'below');
  text(131.5, (y0 + y1) / 2, t, 20, {textangle: -90, font: {family: LAB, size: 20, color: NAVY, weight: 700}});
});

// light / dark bars
function ldBar(x0, xm, x1, y0, y1) {
  rect(x0, y0, xm, y1, '#fff', '#000', 1.5);
  rect(xm, y0, x1, y1, '#000', '#000', 1.5);
}
ldBar(192, 348, 506, 328, 342);
ldBar(767.5, 924, 1082, 328, 342);
ldBar(192, 348, 506, 1786, 1799);
ldBar(767.5, 924, 1082, 1786, 1799);

layout.shapes = shapes;
layout.annotations = annotations;

Plotly.newPlot('fig', traces, layout, {staticPlot: true, displayModeBar: false});
</script>
</body>
</html>
